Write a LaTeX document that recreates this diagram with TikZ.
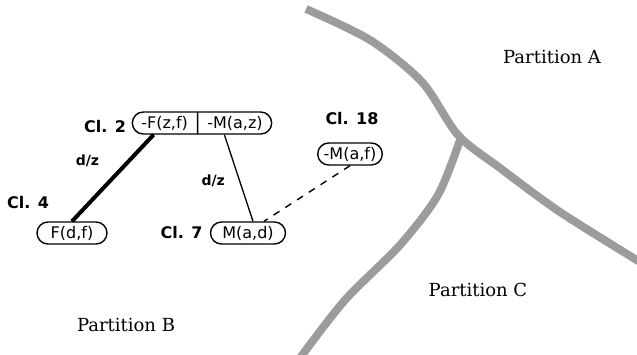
\documentclass[tikz,border=0pt]{standalone}
\usepackage{fontspec}
\setmainfont{DejaVu Serif}
\setsansfont{DejaVu Sans}
\usetikzlibrary{positioning,shapes.multipart,calc}
\definecolor{partGray}{HTML}{9C9C9C}

\begin{document}
\begin{tikzpicture}[x=1pt,y=-1pt,font=\sffamily]
  \tikzset{clause/.style={draw,line width=1.4pt,rounded corners=11pt,minimum height=22pt,inner xsep=9pt,inner ysep=2pt,font=\sffamily\fontsize{16}{17}\selectfont},
    cltag/.style={font=\sffamily\bfseries\fontsize{16}{18}\selectfont,inner sep=0pt},
    subst/.style={font=\sffamily\bfseries\fontsize{14}{15}\selectfont,inner sep=0pt},
    region/.style={font=\fontsize{18}{20}\selectfont,inner sep=0pt},
    border/.style={partGray,line width=8pt,line join=round}}
  \useasboundingbox (0,0) rectangle (637,354);
  % partition borders
  \draw[border] plot[smooth,tension=0.5] coordinates {(306,9) (370,40) (422,82) (458,135) (500,168) (560,212) (640,262)};
  \draw[border] plot[smooth,tension=0.5] coordinates {(460,140) (438,195) (400,245) (345,300) (300,358)};
  % clauses
  \node[clause,rectangle split,rectangle split horizontal,rectangle split parts=2] (cl2) at (202,123) {-F(z,f)\nodepart{two}-M(a,z)};
  \node[clause,inner xsep=6pt] (cl18) at (350,154) {-M(a,f)};
  \node[clause,minimum width=70pt] (cl4) at (72,233) {F(d,f)};
  \node[clause,minimum width=75pt] (cl7) at (248,233) {M(a,d)};
  \node[cltag] (t2) at (105,127) {Cl. 2};
  \node[cltag] (t18) at (352,119) {Cl. 18};
  \node[cltag] (t4) at (28,203) {Cl. 4};
  \node[cltag,left=7pt of cl7] (t7) {Cl. 7};
  % links
  \draw[line width=4pt] ([xshift=22pt]cl2.south west) -- (cl4.north) node[subst,pos=0.3,left=28pt] {d/z};
  \draw[line width=1.3pt] ([xshift=-48pt]cl2.south east) -- ([xshift=5pt]cl7.north) node[subst,pos=0.53,left=14pt] {d/z};
  \draw[line width=1.4pt,dash pattern=on 7pt off 7pt] (cl18.south) -- ([xshift=16pt]cl7.north);
  % partitions
  \node[region] (pa) at (552,57) {Partition A};
  \node[region] (pb) at (126,325) {Partition B};
  \node[region] (pc) at (478,290) {Partition C};
\end{tikzpicture}
\end{document}
